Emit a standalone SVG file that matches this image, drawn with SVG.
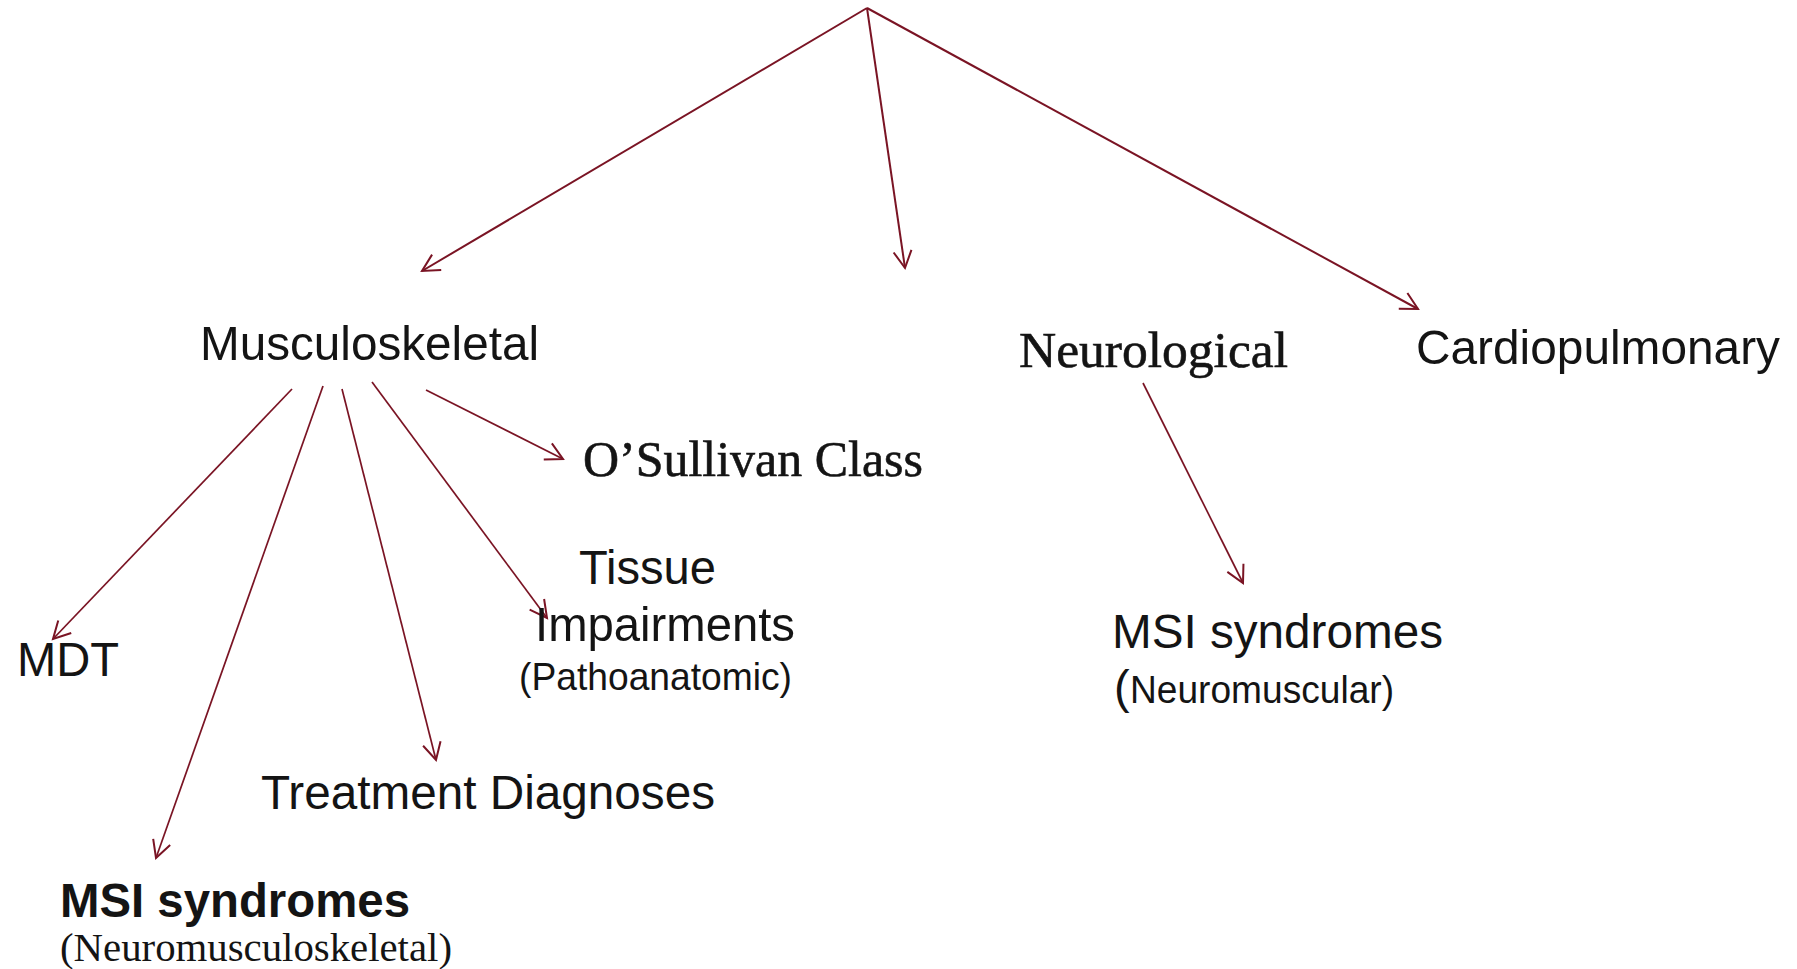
<svg xmlns="http://www.w3.org/2000/svg" width="1797" height="969" viewBox="0 0 1797 969">
  <defs>
    <marker id="head" markerUnits="userSpaceOnUse" markerWidth="40" markerHeight="40" refX="0" refY="0" viewBox="-20 -20 40 40" orient="auto" overflow="visible">
      <path d="M-17,-9 L0,0 L-17,9" fill="none" stroke="#7a1424" stroke-width="2" stroke-linejoin="miter"/>
    </marker>
    <style>
      .sans { font-family: "Liberation Sans", Arial, sans-serif; fill: #141414; }
      .serif { font-family: "Liberation Serif", "Times New Roman", serif; fill: #141414; }
      .edge { fill: none; stroke: #7a1424; marker-end: url(#head); }
      .main { stroke-width: 2; }
      .sub { stroke-width: 1.7; }
    </style>
  </defs>

  <rect width="1797" height="969" fill="#ffffff"/>

  <!-- connectors -->
  <g id="connectors">
    <line class="edge main" x1="867" y1="8" x2="422" y2="271"/>
    <line class="edge main" x1="867" y1="8" x2="905" y2="268"/>
    <line class="edge main" x1="867" y1="8" x2="1418" y2="309"/>

    <line class="edge sub" x1="292" y1="389" x2="53" y2="639"/>
    <line class="edge sub" x1="323" y1="386" x2="156" y2="858"/>
    <line class="edge sub" x1="342" y1="389" x2="436" y2="760"/>
    <line class="edge sub" x1="372" y1="382" x2="547" y2="618"/>
    <line class="edge sub" x1="426" y1="390" x2="563" y2="459"/>

    <line class="edge sub" x1="1143" y1="383" x2="1243" y2="583"/>
  </g>

  <!-- top-level categories -->
  <g id="musculoskeletal">
    <text class="sans" x="200" y="360" font-size="49" textLength="339" lengthAdjust="spacingAndGlyphs">Musculoskeletal</text>
  </g>
  <g id="neurological">
    <text class="serif" x="1019" y="367" font-size="51" textLength="269" lengthAdjust="spacingAndGlyphs" stroke="#141414" stroke-width="0.6">Neurological</text>
  </g>
  <g id="cardiopulmonary">
    <text class="sans" x="1416" y="364" font-size="49" textLength="364" lengthAdjust="spacingAndGlyphs">Cardiopulmonary</text>
  </g>

  <!-- musculoskeletal sub-classifications -->
  <g id="osullivan">
    <text class="serif" x="583" y="476" font-size="50" textLength="340" lengthAdjust="spacingAndGlyphs" stroke="#141414" stroke-width="0.6">O’Sullivan Class</text>
  </g>
  <g id="tissue-impairments">
    <text class="sans" x="579" y="584" font-size="48" textLength="137" lengthAdjust="spacingAndGlyphs">Tissue</text>
    <text class="sans" x="535" y="641" font-size="49" textLength="260" lengthAdjust="spacingAndGlyphs">Impairments</text>
    <text class="sans" x="519" y="690" font-size="39" textLength="273" lengthAdjust="spacingAndGlyphs">(Pathoanatomic)</text>
  </g>
  <g id="mdt">
    <text class="sans" x="17" y="676" font-size="48" textLength="102" lengthAdjust="spacingAndGlyphs">MDT</text>
  </g>
  <g id="treatment-diagnoses">
    <text class="sans" x="261" y="809" font-size="48" textLength="454" lengthAdjust="spacingAndGlyphs">Treatment Diagnoses</text>
  </g>
  <g id="msi-nms">
    <text class="sans" x="60" y="917" font-size="48" font-weight="bold" textLength="350" lengthAdjust="spacingAndGlyphs">MSI syndromes</text>
    <text class="serif" x="60" y="961" font-size="41" textLength="392" lengthAdjust="spacingAndGlyphs">(Neuromusculoskeletal)</text>
  </g>

  <!-- neurological sub-classification -->
  <g id="msi-nm">
    <text class="sans" x="1112" y="648" font-size="48" textLength="331" lengthAdjust="spacingAndGlyphs">MSI syndromes</text>
    <text class="sans" x="1114" y="703" font-size="47">(</text>
    <text class="sans" x="1130" y="703" font-size="38" textLength="264" lengthAdjust="spacingAndGlyphs">Neuromuscular)</text>
  </g>
</svg>
